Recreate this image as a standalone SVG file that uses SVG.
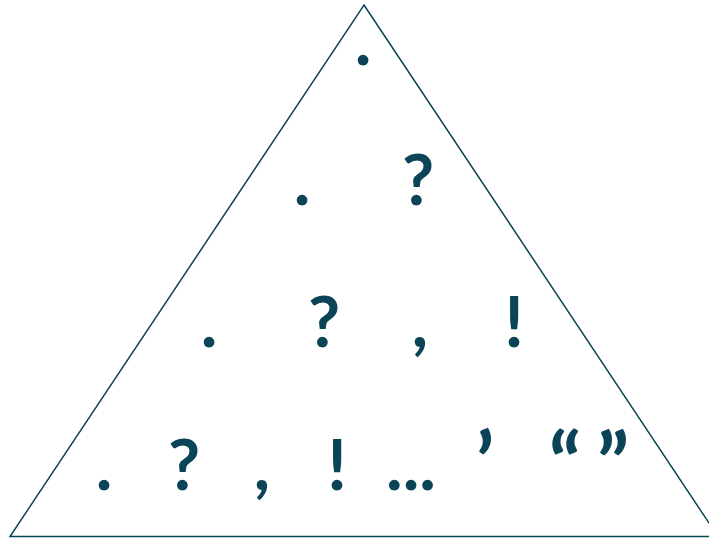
<svg xmlns="http://www.w3.org/2000/svg" width="709" height="539" viewBox="0 0 709 539">
<style>
.p{font-family:Lato,"Open Sans",sans-serif;font-size:70px;font-weight:bold;fill:#0b4456;text-anchor:middle}
.q{font-size:84px}
</style>
<rect width="709" height="539" fill="#fff"/>
<g id="triangle"><polygon points="364,5 718,536.5 10,536.5" fill="none" stroke="#0b4456" stroke-width="1.5"/></g>
<g id="row1"><text class="p" x="363" y="65">.</text></g>
<g id="row2"><text class="p" x="302" y="205">.</text><text class="p" x="418" y="205">?</text></g>
<g id="row3"><text class="p" x="209" y="347">.</text><text class="p" x="324" y="347">?</text><text class="p" x="420" y="347">,</text><text class="p" x="514" y="347">!</text></g>
<g id="row4"><text class="p" x="104" y="490">.</text><text class="p" x="184" y="490">?</text><text class="p" x="262" y="490">,</text><text class="p" x="337" y="490">!</text><text class="p" x="411" y="490">...</text><text class="p q" x="485" y="493">’</text><text class="p q" x="565" y="494">“</text><text class="p q" x="613" y="494">”</text></g>
<g id="connectors"/>
</svg>
